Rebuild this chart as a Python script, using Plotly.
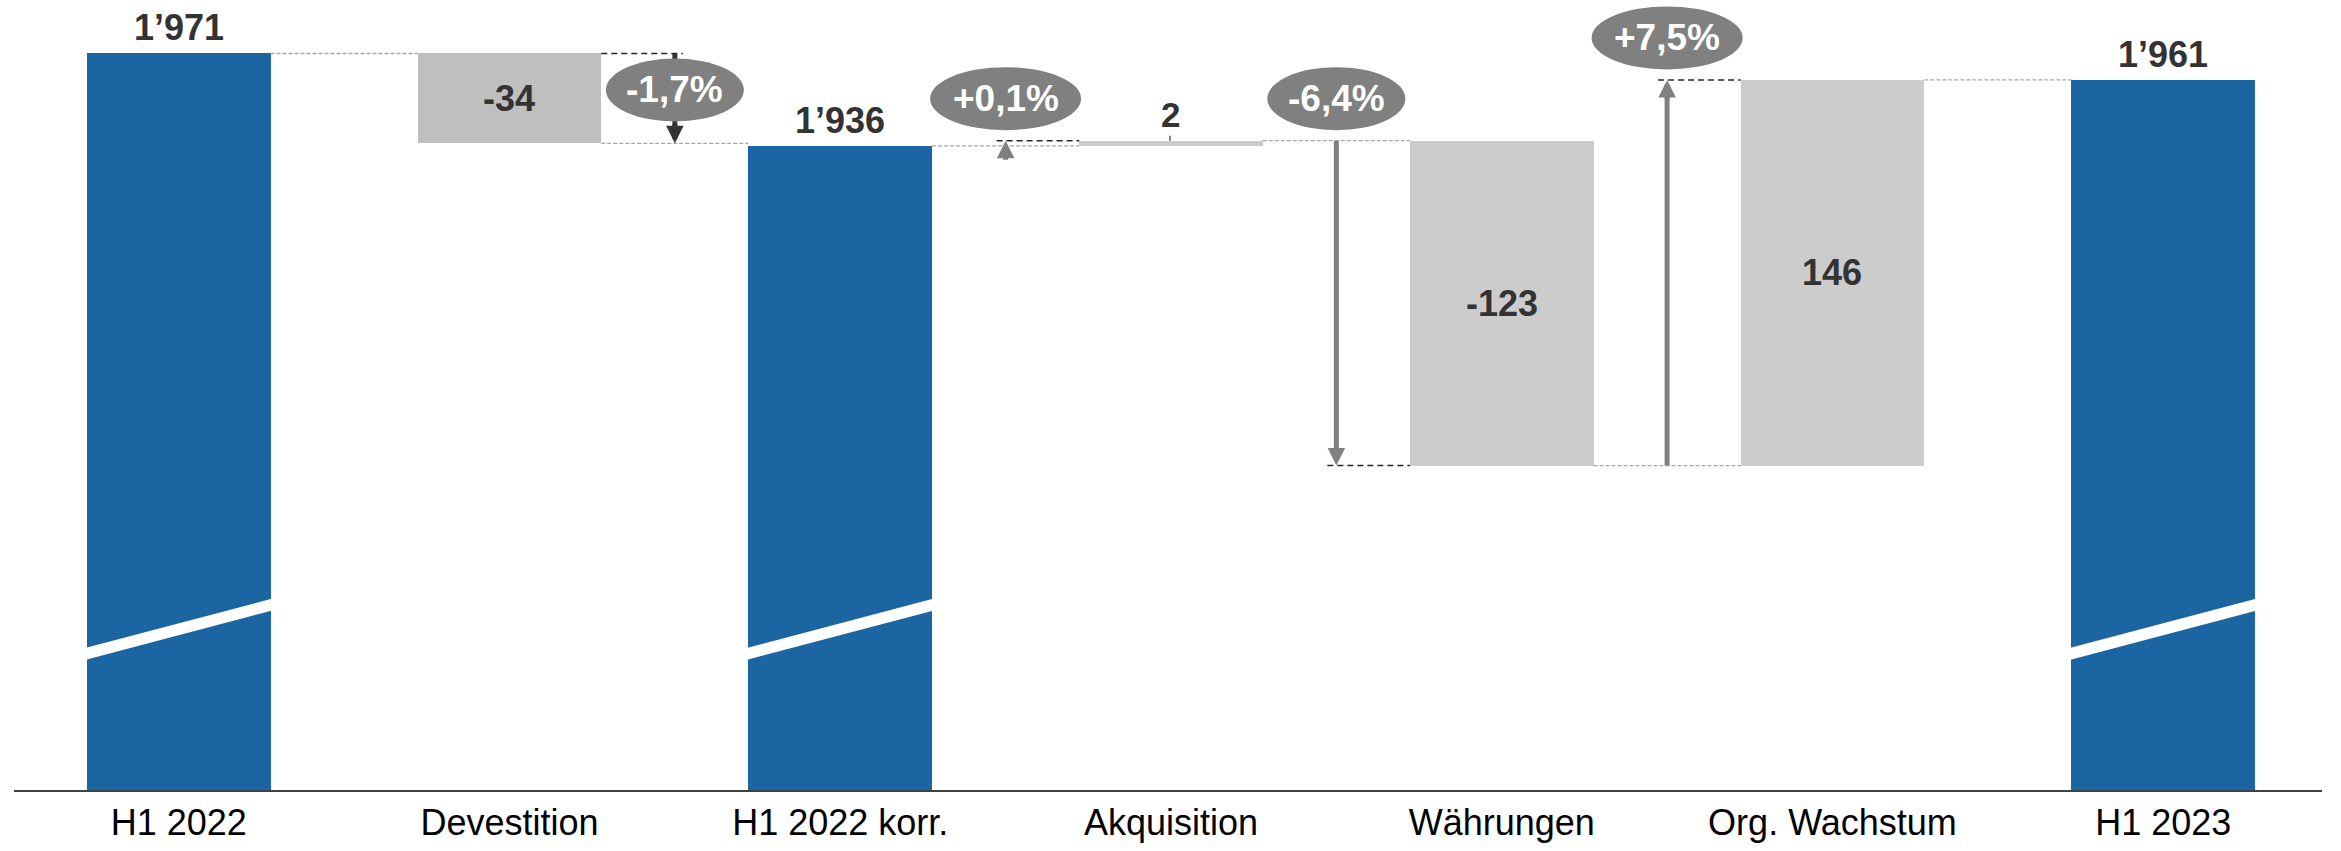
import plotly.graph_objects as go

# ---------------- data ----------------
categories = ["H1 2022", "Devestition", "H1 2022 korr.", "Akquisition",
              "Währungen", "Org. Wachstum", "H1 2023"]
measures = ["total", "relative", "total", "relative", "relative", "relative", "total"]
values = [1971, -34, 1936, 2, -123, 146, 1961]
pct_labels = ["-1,7%", "+0,1%", "-6,4%", "+7,5%"]

# ---------------- geometry / style ----------------
W, H = 2341, 851
ML, MR, MT, MB = 14, 19, 0, 61
PW, PH = W - ML - MR, H - MT - MB
X_RANGE = [-0.498, 6.48]
Y_RANGE = [1692.2, 1991.25]
px2x = (X_RANGE[1] - X_RANGE[0]) / PW
px2y = (Y_RANGE[1] - Y_RANGE[0]) / PH

BAR_W = 0.555
BLUE = "#1B65A2"
GREY_DEV = "#BFBFBF"
GREY = "#CCCCCC"
ELL = "#808080"
DARK = "#333333"
FONT = "Arial, 'Liberation Sans', sans-serif"

# ---------------- derived waterfall levels ----------------
bases, ys, starts, ends = [], [], [], []
level = 0
for m, v in zip(measures, values):
    if m == "total":
        bases.append(0)
        ys.append(v)
        starts.append(v)
        ends.append(v)
        level = v
    else:
        bases.append(level)
        ys.append(v)
        starts.append(level)
        level += v
        ends.append(level)

colors = []
for i, m in enumerate(measures):
    if m == "total":
        colors.append(BLUE)
    elif i < 2:
        colors.append(GREY_DEV)
    else:
        colors.append(GREY)

xs = list(range(len(categories)))

fig = go.Figure()
fig.add_trace(go.Bar(
    x=xs, y=ys, base=bases, width=BAR_W,
    marker=dict(color=colors, line=dict(width=0)),
    hoverinfo="skip", showlegend=False,
))

shapes = []
annotations = []

# grey dashed connectors between neighbouring bars
for i in range(len(categories) - 1):
    shapes.append(dict(type="line", xref="x", yref="y", layer="above",
                       x0=i + BAR_W / 2, x1=i + 1 - BAR_W / 2,
                       y0=ends[i], y1=ends[i],
                       line=dict(color="#A6A6A6", width=1.3, dash="4px,2px")))

# axis-break stripes on total bars
left_c, right_c, half_t = 136.5, 185.0, 5.9  # px above the axis
ext = 0.02
for i, m in enumerate(measures):
    if m != "total":
        continue
    xl = i - BAR_W / 2 - ext
    xr = i + BAR_W / 2 + ext
    slope = (right_c - left_c) / (BAR_W * (1 / px2x))
    yl_c = left_c - slope * ext / px2x
    yr_c = right_c + slope * ext / px2x
    y0 = Y_RANGE[0]
    p = (f"M{xl},{y0 + (yl_c - half_t) * px2y} "
         f"L{xr},{y0 + (yr_c - half_t) * px2y} "
         f"L{xr},{y0 + (yr_c + half_t) * px2y} "
         f"L{xl},{y0 + (yl_c + half_t) * px2y} Z")
    shapes.append(dict(type="path", xref="x", yref="y", layer="above", path=p,
                       fillcolor="white", line=dict(width=0)))

# arrows, ellipses, dashed helper lines
HEAD = 17.5
rel_idx = [i for i, m in enumerate(measures) if m == "relative"]
ell_shapes, ell_texts = [], []
for k, j in enumerate(rel_idx):
    s, e = starts[j], ends[j]
    first = (k == 0)
    ax_x = j + 0.5 if first else j - 0.5
    col = DARK if first else ELL
    up = e > s
    span_px = abs(e - s) / px2y
    if span_px > HEAD:
        shaft_end = e - (1 if up else -1) * HEAD * px2y
        shapes.append(dict(type="line", xref="x", yref="y", layer="above",
                           x0=ax_x, x1=ax_x, y0=s, y1=shaft_end,
                           line=dict(color=col, width=5)))
    annotations.append(dict(x=ax_x, y=e, xref="x", yref="y", text="",
                            showarrow=True, arrowhead=2, arrowsize=0.7,
                            arrowwidth=5, arrowcolor=col, standoff=0,
                            ax=0, ay=(HEAD + 3) * (1 if up else -1)))
    if first:
        shapes.append(dict(type="line", xref="x", yref="y", layer="above",
                           x0=j + BAR_W / 2, x1=ax_x + 8 * px2x, y0=s, y1=s,
                           line=dict(color="#262626", width=1.5, dash="6px,4px")))
    else:
        shapes.append(dict(type="line", xref="x", yref="y", layer="above",
                           x0=ax_x - 9 * px2x, x1=j - BAR_W / 2, y0=e, y1=e,
                           line=dict(color="#262626", width=1.5, dash="6px,4px")))
    lab = pct_labels[k]
    ew = 138 if lab.startswith("-") else 151
    eh = 63
    if first:
        anchor, off = s, -36.5
    else:
        anchor, off = max(s, e), 42
    ell_shapes.append(dict(type="circle", xref="x", yref="y", layer="above",
                           xsizemode="pixel", ysizemode="pixel",
                           xanchor=ax_x, yanchor=anchor,
                           x0=-ew / 2, x1=ew / 2, y0=off - eh / 2, y1=off + eh / 2,
                           fillcolor=ELL, line=dict(width=0)))
    ell_texts.append(dict(x=ax_x, y=anchor, xref="x", yref="y", yshift=off,
                          text=lab, showarrow=False, xanchor="center", yanchor="middle",
                          font=dict(family=FONT, size=37, color="white", weight="bold")))
shapes.extend(ell_shapes)
annotations.extend(ell_texts)

# value labels
def fmt(v):
    return f"{v:,}".replace(",", "\u2019")

for i, (m, v) in enumerate(zip(measures, values)):
    if m == "total":
        annotations.append(dict(x=i, y=v, xref="x", yref="y", text=fmt(v),
                                showarrow=False, xanchor="center", yanchor="bottom",
                                yshift=3,
                                font=dict(family=FONT, size=36, color=DARK, weight="bold")))
    else:
        lo, hi = sorted([starts[i], ends[i]])
        if (hi - lo) / px2y > 45:
            annotations.append(dict(x=i, y=(lo + hi) / 2, xref="x", yref="y", text=fmt(v),
                                    showarrow=False, xanchor="center", yanchor="middle",
                                    font=dict(family=FONT, size=36, color=DARK, weight="bold")))
        else:
            shapes.append(dict(type="line", xref="x", yref="y", layer="above",
                               ysizemode="pixel", yanchor=hi, y0=0, y1=5,
                               x0=i - 1 * px2x, x1=i - 1 * px2x,
                               line=dict(color="#595959", width=1.5)))
            annotations.append(dict(x=i, y=hi, xref="x", yref="y", text=fmt(v),
                                    showarrow=False, xanchor="center", yanchor="bottom",
                                    yshift=5,
                                    font=dict(family=FONT, size=35, color=DARK, weight="bold")))

fig.update_layout(
    width=W, height=H,
    margin=dict(l=ML, r=MR, t=MT, b=MB, pad=0),
    paper_bgcolor="white", plot_bgcolor="white",
    bargap=0, showlegend=False,
    shapes=shapes, annotations=annotations,
    xaxis=dict(range=X_RANGE, tickmode="array", tickvals=xs, ticktext=categories,
               tickfont=dict(family=FONT, size=36, color="#000000"),
               showline=True, linecolor="#404040", linewidth=2,
               ticks="", showgrid=False, zeroline=False, fixedrange=True),
    yaxis=dict(range=Y_RANGE, visible=False, showgrid=False, zeroline=False,
               fixedrange=True),
)

fig.write_html("out.html",
               config={"displayModeBar": False},
               post_script="document.body.style.margin='0';document.body.style.overflow='hidden';")
